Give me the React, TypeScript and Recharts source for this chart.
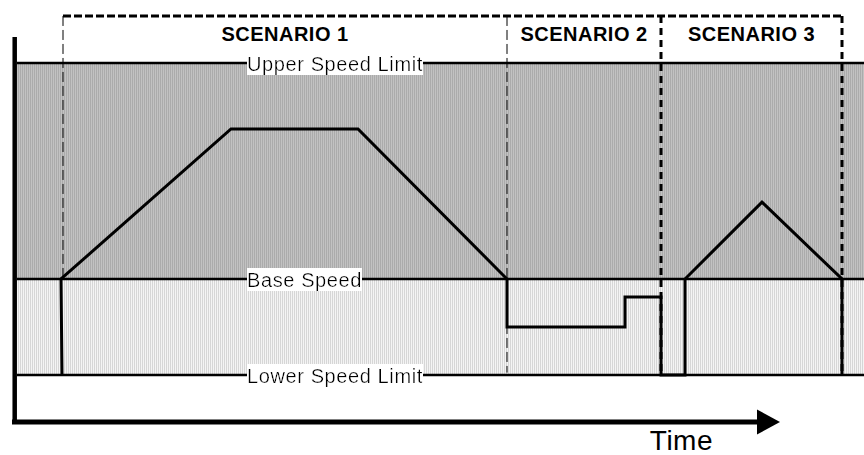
import React from "react";
import {
  ComposedChart,
  Line,
  XAxis,
  YAxis,
  ReferenceArea,
  ReferenceLine
} from "recharts";

// speed profile (time, speed) — lower limit = 0, base = 40, upper = 130
const times = [48, 47, 217, 344, 493, 493, 611, 611, 647, 647, 671, 671, 748, 828, 828];
const speeds = [0, 40, 102.5, 102.5, 40, 20, 20, 32.5, 32.5, 0, 0, 40, 72, 40, 0];

const levelNames = ["Upper Speed Limit", "Base Speed", "Lower Speed Limit"];
const levelValues = [130, 40, 0];

const scenarioNames = ["SCENARIO 1", "SCENARIO 2", "SCENARIO 3"];
const scenarioStart = [49, 493, 647];
const scenarioEnd = [493, 647, 828];

// vertical scenario borders: time, lowest speed reached, heavy or not
const borderTimes = [49, 493, 647, 828];
const borderBottoms = [40, 1, 0, 0];
const borderHeavy = [false, false, true, true];

const data = times.map((t, i) => ({ time: t, speed: speeds[i] }));

const FONT = '"Liberation Sans", Arial, sans-serif';

const LevelLabel = (props: any) => {
  const vb = props.viewBox || {};
  return (
    <text
      x={247}
      y={vb.y + 7.5}
      fontFamily={FONT}
      fontSize={20}
      letterSpacing={0.6}
      fill="#000"
      filter="url(#whiteBg)"
    >
      {props.text}
    </text>
  );
};

const TimeLabel = (props: any) => {
  const vb = props.viewBox || {};
  return (
    <text
      x={vb.x + vb.width - 44}
      y={vb.y + 28}
      textAnchor="end"
      fontFamily={FONT}
      fontSize={28}
      letterSpacing={0.5}
      fill="#000"
    >
      Time
    </text>
  );
};

const Arrow = (p: any) => (
  <g>
    <line x1={p.x1 - 2} y1={p.y1} x2={p.x2} y2={p.y2} stroke="#000" strokeWidth={5} />
    <polygon
      points={`${p.x2},${p.y2 - 12.5} ${p.x2 + 23},${p.y2} ${p.x2},${p.y2 + 12.5}`}
      fill="#000"
    />
  </g>
);

export default function App() {
  return (
    <div style={{ position: "absolute", left: 0, top: 0, background: "#fff" }}>
      <ComposedChart
        width={864}
        height={455}
        data={data}
        margin={{ top: 15, right: 0, bottom: 32, left: 14 }}
      >
        <defs>
          <pattern id="grayPat" width="2" height="2" patternUnits="userSpaceOnUse">
            <rect width="2" height="2" fill="#c2c2c2" />
            <rect width="1" height="2" fill="#ababab" />
          </pattern>
          <pattern id="lightPat" width="2" height="2" patternUnits="userSpaceOnUse">
            <rect width="2" height="2" fill="#f4f4f4" />
            <rect width="1" height="2" fill="#d6d6d6" />
          </pattern>
          <filter id="whiteBg" x="0" y="0" width="1" height="1">
            <feFlood floodColor="#ffffff" />
            <feComposite in="SourceGraphic" operator="over" />
          </filter>
        </defs>
        <XAxis type="number" dataKey="time" domain={[0, 850]} hide allowDataOverflow />
        <YAxis type="number" domain={[-20, 150]} hide allowDataOverflow />

        <ReferenceArea x1={3} x2={850} y1={levelValues[1]} y2={levelValues[0]} fill="url(#grayPat)" fillOpacity={1} />
        <ReferenceArea x1={3} x2={850} y1={levelValues[2]} y2={levelValues[1]} fill="url(#lightPat)" fillOpacity={1} />

        {scenarioNames.map((name, i) => (
          <ReferenceArea
            key={name}
            x1={scenarioStart[i]}
            x2={scenarioEnd[i]}
            y1={136}
            y2={148}
            fill="none"
            stroke="none"
            label={{
              value: name,
              position: "center",
              fill: "#000",
              fontSize: 20,
              fontWeight: "bold",
              fontFamily: FONT,
              letterSpacing: 0.5
            }}
          />
        ))}

        <ReferenceLine
          segment={[{ x: scenarioStart[0], y: 149.6 }, { x: scenarioEnd[2], y: 149.6 }]}
          stroke="#000"
          strokeWidth={3}
          strokeDasharray="8 3"
        />
        {borderTimes.map((t, i) => (
          <ReferenceLine
            key={"b" + i}
            segment={[{ x: t, y: 149.6 }, { x: t, y: borderBottoms[i] }]}
            stroke="#000"
            strokeWidth={borderHeavy[i] ? 3 : 1}
            strokeDasharray={borderHeavy[i] ? "7 5" : "10 4"}
          />
        ))}

        {levelNames.map((name, i) => (
          <ReferenceLine
            key={name}
            segment={[{ x: 3, y: levelValues[i] }, { x: 850, y: levelValues[i] }]}
            stroke="#000"
            strokeWidth={2.5}
            label={(p: any) => <LevelLabel {...p} text={name} />}
          />
        ))}

        <Line
          type="linear"
          dataKey="speed"
          stroke="#000"
          strokeWidth={3}
          dot={false}
          activeDot={false}
          isAnimationActive={false}
        />

        <ReferenceLine
          segment={[{ x: 0.7, y: 140.8 }, { x: 0.7, y: -20 }]}
          stroke="#000"
          strokeWidth={4.5}
          ifOverflow="visible"
        />
        <ReferenceLine
          segment={[{ x: 0, y: -19.6 }, { x: 743, y: -19.6 }]}
          shape={Arrow}
          ifOverflow="visible"
          label={(p: any) => <TimeLabel {...p} />}
        />
      </ComposedChart>
    </div>
  );
}
